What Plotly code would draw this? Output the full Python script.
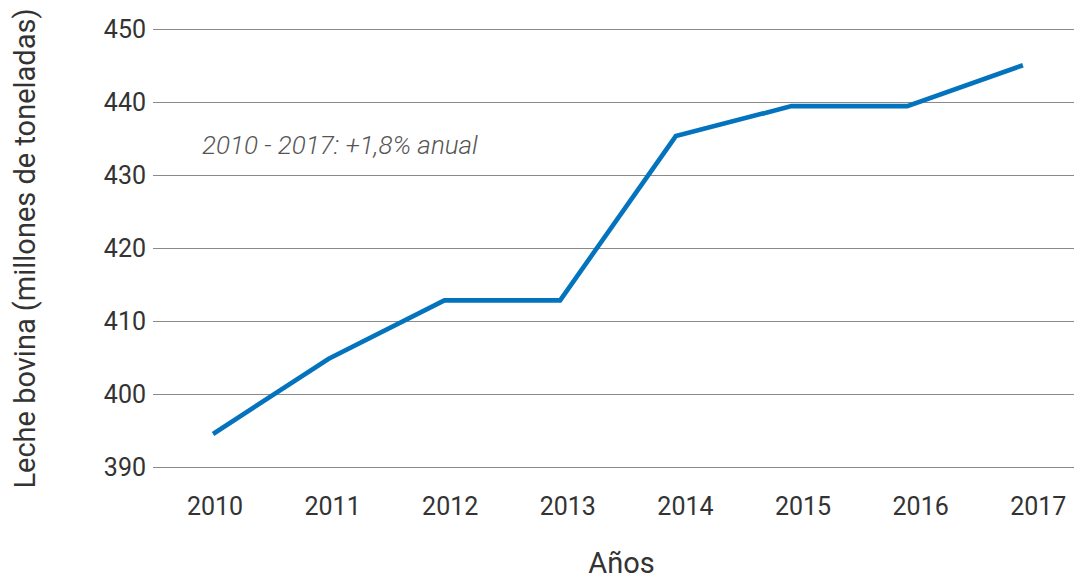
import plotly.graph_objects as go

# Producción mundial de leche bovina
years = ['2010', '2011', '2012', '2013', '2014', '2015', '2016', '2017']
leche = [394.6, 404.9, 412.9, 412.9, 435.4, 439.5, 439.5, 445.1]

FONT = 'Roboto'
TEXT = '#333333'
pos = list(range(len(years)))

fig = go.Figure()
# line sits on its own (hidden) x axis; the labels axis is spaced slightly wider
fig.add_trace(go.Scatter(
    x=pos, y=leche, mode='lines', xaxis='x2', yaxis='y',
    line=dict(color='#0473BE', width=4.6),
    hoverinfo='skip', showlegend=False,
))

fig.add_annotation(
    x=-0.13, y=434.2, xref='x', yref='y',
    text='<i>2010 - 2017: +1,8% anual</i>', showarrow=False,
    xanchor='left', yanchor='middle',
    font=dict(family=FONT, size=26, color='#555555', weight=300),
)

fig.update_layout(
    xaxis=dict(
        tickvals=pos, ticktext=years,
        range=[-0.527, 7.44], showgrid=False, zeroline=False, showline=False,
        tickfont=dict(family=FONT, size=25, color=TEXT),
        ticklabelstandoff=20, automargin=False,
        title=dict(text='Años', font=dict(family=FONT, size=29, color=TEXT), standoff=32),
    ),
    xaxis2=dict(
        range=[-0.519, 7.58], overlaying='x', anchor='y', visible=False,
    ),
    yaxis=dict(
        range=[389.8, 450.2], tickvals=[390, 400, 410, 420, 430, 440, 450],
        showgrid=True, gridcolor='#8a8a8a', gridwidth=1,
        zeroline=False, showline=False,
        tickfont=dict(family=FONT, size=25, color=TEXT),
        ticklabelstandoff=6, automargin=False,
        title=dict(text='Leche bovina (millones de toneladas)',
                   font=dict(family=FONT, size=29, color=TEXT), standoff=60),
    ),
    width=1082, height=579,
    margin=dict(l=145, r=0, t=20, b=118),
    plot_bgcolor='white', paper_bgcolor='white',
)

fig.write_html('out.html')
